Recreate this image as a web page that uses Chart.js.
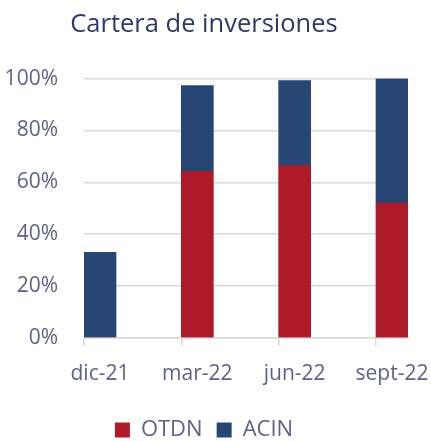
<!DOCTYPE html>
<html>
<head>
<meta charset="utf-8">
<script src="https://cdn.jsdelivr.net/npm/chart.js@4/dist/chart.umd.min.js"></script>
<style>
  html, body { margin: 0; padding: 0; background: #fff; }
  #wrap { width: 431px; height: 441px; }
</style>
</head>
<body>
<div id="wrap"><canvas id="cartera"></canvas></div>
<script>
const categories = ['dic-21', 'mar-22', 'jun-22', 'sept-22'];
const otdn = [0, 64.2, 66.4, 52.0];
const acin = [33.0, 33.1, 32.8, 48.0];
const yTicks = [0, 20, 40, 60, 80, 100];

const textColor = '#5b6485';
const gridColor = '#d9d9d9';
const font = "'Open Sans', sans-serif";

// bars sit right of the tick marks, like the Excel date axis
const half = 0.1645;

const data = {
  datasets: [{
      label: 'OTDN',
      data: categories.map((c, i) => ({ x: i, y: otdn[i] || null })),
      backgroundColor: '#ae1a27',
      borderWidth: 0,
      barThickness: 32
    },
    {
      label: 'ACIN',
      data: categories.map((c, i) => ({ x: i, y: acin[i] })),
      backgroundColor: '#284674',
      borderWidth: 0,
      barThickness: 32
    }
  ]
};

const config = {
  type: 'bar',
  data,
  options: {
    responsive: true,
    maintainAspectRatio: false,
    animation: false,
    layout: {
      padding: { left: 0, right: 23, top: 0, bottom: -10 }
    },
    scales: {
      x: {
        type: 'linear',
        stacked: true,
        offset: false,
        min: -half,
        max: 3 + half,
        afterBuildTicks: (axis) => {
          axis.ticks = categories.map((c, i) => ({ value: i - half }));
        },
        afterFit: (axis) => { axis.height += 2; },
        grid: {
          offset: false,
          drawOnChartArea: false,
          drawTicks: true,
          tickLength: 8,
          color: gridColor,
          lineWidth: 1.5
        },
        border: { color: gridColor, width: 1.5 },
        ticks: {
          autoSkip: false,
          maxRotation: 0,
          labelOffset: 16,
          padding: 16,
          color: textColor,
          font: { family: font, size: 21 },
          callback: (v, i) => categories[i]
        }
      },
      y: {
        stacked: true,
        min: 0,
        max: 100,
        afterBuildTicks: (axis) => {
          axis.ticks = yTicks.map(v => ({ value: v }));
        },
        afterFit: (axis) => { axis.width = 84; },
        grid: {
          color: gridColor,
          lineWidth: 1.5,
          drawTicks: false
        },
        border: { display: false },
        ticks: {
          padding: 26,
          color: textColor,
          font: { family: font, size: 21 },
          callback: (v) => v + '%'
        }
      }
    },
    plugins: {
      title: {
        display: true,
        text: 'Cartera de inversiones',
        color: '#2e3a68',
        font: { family: font, size: 25.5, weight: 'normal' },
        padding: { top: 9, bottom: 39 }
      },
      legend: {
        position: 'bottom',
        labels: {
          color: textColor,
          font: { family: font, size: 22 },
          boxWidth: 15,
          boxHeight: 15,
          padding: 14
        }
      },
      tooltip: { enabled: false }
    }
  }
};

const carteraChart = new Chart(document.getElementById('cartera'), config);
</script>
</body>
</html>
